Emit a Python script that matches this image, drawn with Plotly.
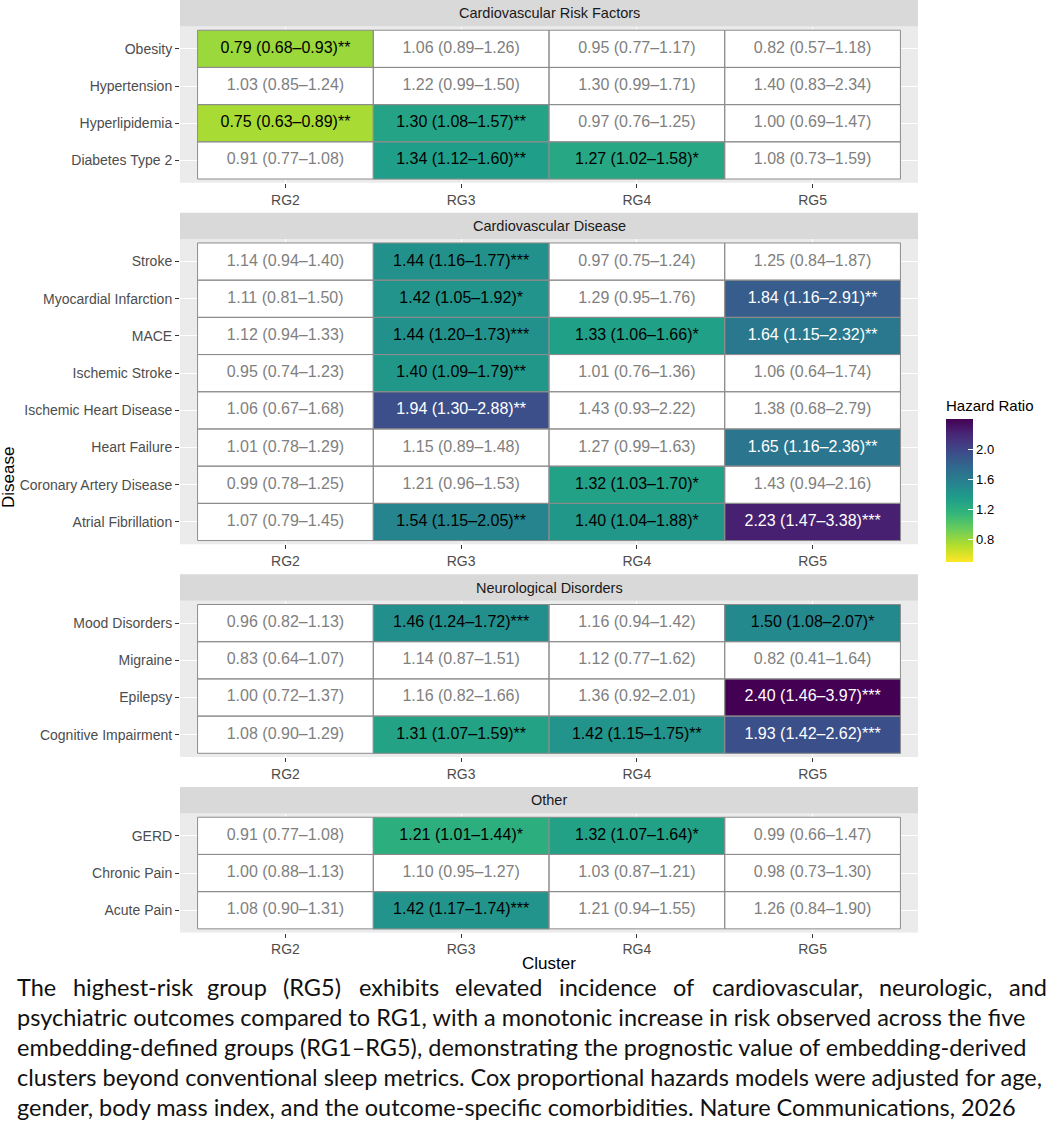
import plotly.graph_objects as go

# ----------------------------- DONNEES ----------------------------- #
clusters = ["RG2", "RG3", "RG4", "RG5"]
groups = ["Cardiovascular Risk Factors", "Cardiovascular Disease", "Neurological Disorders", "Other"]

risk_rows = ["Obesity", "Hypertension", "Hyperlipidemia", "Diabetes Type 2"]
risk_hr = [[0.79, 1.06, 0.95, 0.82], [1.03, 1.22, 1.30, 1.40], [0.75, 1.30, 0.97, 1.00], [0.91, 1.34, 1.27, 1.08]]
risk_lo = [[0.68, 0.89, 0.77, 0.57], [0.85, 0.99, 0.99, 0.83], [0.63, 1.08, 0.76, 0.69], [0.77, 1.12, 1.02, 0.73]]
risk_hi = [[0.93, 1.26, 1.17, 1.18], [1.24, 1.50, 1.71, 2.34], [0.89, 1.57, 1.25, 1.47], [1.08, 1.60, 1.58, 1.59]]
risk_sig = [["**", "", "", ""], ["", "", "", ""], ["**", "**", "", ""], ["", "**", "*", ""]]

cvd_rows = ["Stroke", "Myocardial Infarction", "MACE", "Ischemic Stroke", "Ischemic Heart Disease",
            "Heart Failure", "Coronary Artery Disease", "Atrial Fibrillation"]
cvd_hr = [[1.14, 1.44, 0.97, 1.25], [1.11, 1.42, 1.29, 1.84], [1.12, 1.44, 1.33, 1.64], [0.95, 1.40, 1.01, 1.06],
          [1.06, 1.94, 1.43, 1.38], [1.01, 1.15, 1.27, 1.65], [0.99, 1.21, 1.32, 1.43], [1.07, 1.54, 1.40, 2.23]]
cvd_lo = [[0.94, 1.16, 0.75, 0.84], [0.81, 1.05, 0.95, 1.16], [0.94, 1.20, 1.06, 1.15], [0.74, 1.09, 0.76, 0.64],
          [0.67, 1.30, 0.93, 0.68], [0.78, 0.89, 0.99, 1.16], [0.78, 0.96, 1.03, 0.94], [0.79, 1.15, 1.04, 1.47]]
cvd_hi = [[1.40, 1.77, 1.24, 1.87], [1.50, 1.92, 1.76, 2.91], [1.33, 1.73, 1.66, 2.32], [1.23, 1.79, 1.36, 1.74],
          [1.68, 2.88, 2.22, 2.79], [1.29, 1.48, 1.63, 2.36], [1.25, 1.53, 1.70, 2.16], [1.45, 2.05, 1.88, 3.38]]
cvd_sig = [["", "***", "", ""], ["", "*", "", "**"], ["", "***", "*", "**"], ["", "**", "", ""],
           ["", "**", "", ""], ["", "", "", "**"], ["", "", "*", ""], ["", "**", "*", "***"]]

neuro_rows = ["Mood Disorders", "Migraine", "Epilepsy", "Cognitive Impairment"]
neuro_hr = [[0.96, 1.46, 1.16, 1.50], [0.83, 1.14, 1.12, 0.82], [1.00, 1.16, 1.36, 2.40], [1.08, 1.31, 1.42, 1.93]]
neuro_lo = [[0.82, 1.24, 0.94, 1.08], [0.64, 0.87, 0.77, 0.41], [0.72, 0.82, 0.92, 1.46], [0.90, 1.07, 1.15, 1.42]]
neuro_hi = [[1.13, 1.72, 1.42, 2.07], [1.07, 1.51, 1.62, 1.64], [1.37, 1.66, 2.01, 3.97], [1.29, 1.59, 1.75, 2.62]]
neuro_sig = [["", "***", "", "*"], ["", "", "", ""], ["", "", "", "***"], ["", "**", "**", "***"]]

other_rows = ["GERD", "Chronic Pain", "Acute Pain"]
other_hr = [[0.91, 1.21, 1.32, 0.99], [1.00, 1.10, 1.03, 0.98], [1.08, 1.42, 1.21, 1.26]]
other_lo = [[0.77, 1.01, 1.07, 0.66], [0.88, 0.95, 0.87, 0.73], [0.90, 1.17, 0.94, 0.84]]
other_hi = [[1.08, 1.44, 1.64, 1.47], [1.13, 1.27, 1.21, 1.30], [1.31, 1.74, 1.55, 1.90]]
other_sig = [["", "*", "*", ""], ["", "", "", ""], ["", "***", "", ""]]

caption_lines = [
    "psychiatric outcomes compared to RG1, with a monotonic increase in risk observed across the five",
    "embedding-defined groups (RG1\u2013RG5), demonstrating the prognostic value of embedding-derived",
    "clusters beyond conventional sleep metrics. Cox proportional hazards models were adjusted for age,",
    "gender, body mass index, and the outcome-specific comorbidities. Nature Communications, 2026",
]
caption_first = ["The", "highest-risk", "group", "(RG5)", "exhibits", "elevated", "incidence", "of",
                 "cardiovascular,", "neurologic,", "and"]

panels = [
    (risk_rows, risk_hr, risk_lo, risk_hi, risk_sig),
    (cvd_rows, cvd_hr, cvd_lo, cvd_hi, cvd_sig),
    (neuro_rows, neuro_hr, neuro_lo, neuro_hi, neuro_sig),
    (other_rows, other_hr, other_lo, other_hi, other_sig),
]

# ----------------------------- MISE EN PAGE ----------------------------- #
W, H = 1057, 1137
ML, MR = 180, 139
PW = W - ML - MR
STRIP, ROW, GAP = 26.5, 37.2, 30
FONT = "Liberation Sans, Arial, sans-serif"


def px_x(px):
    return (px - ML) / PW


def px_y(py):
    return 1 - py / H


fig = go.Figure()
shapes = []
annotations = []
top = 0.0

for i, (rows, hr, lo, hi, sig) in enumerate(panels):
    n = len(rows)
    sfx = "" if i == 0 else str(i + 1)
    xref, yref = "x" + sfx, "y" + sfx

    panel_top = top + STRIP
    panel_bot = panel_top + (n + 0.2) * ROW

    # bandeau de facette
    shapes.append(dict(type="rect", xref="paper", yref="paper", x0=0, x1=1,
                       y0=px_y(panel_top), y1=px_y(top), fillcolor="#D9D9D9", line_width=0, layer="below"))
    annotations.append(dict(text=groups[i], xref="paper", yref="paper", x=0.5, y=px_y(top + STRIP / 2),
                            xanchor="center", yanchor="middle", showarrow=False,
                            font=dict(size=14.5, color="#1A1A1A", family=FONT)))

    z_sig = [[hr[r][c] if sig[r][c] else None for c in range(4)] for r in range(n)]
    z_ns = [[None if sig[r][c] else 1 for c in range(4)] for r in range(n)]

    fig.add_trace(go.Heatmap(x=clusters, y=rows, z=z_ns, colorscale=[[0, "white"], [1, "white"]],
                             showscale=False, hoverinfo="skip", xaxis=xref, yaxis=yref))
    fig.add_trace(go.Heatmap(x=clusters, y=rows, z=z_sig, coloraxis="coloraxis",
                             hovertemplate="%{y} / %{x}<br>HR : %{z:.2f}<extra></extra>",
                             xaxis=xref, yaxis=yref))

    tx, ty, txt, tcol = [], [], [], []
    for r in range(n):
        for c in range(4):
            tx.append(clusters[c])
            ty.append(rows[r])
            txt.append(f"{hr[r][c]:.2f} ({lo[r][c]:.2f}\u2013{hi[r][c]:.2f}){sig[r][c]}")
            if not sig[r][c]:
                tcol.append("#7F7F7F")
            elif hr[r][c] > 1.6:
                tcol.append("white")
            else:
                tcol.append("black")
            # bordure de cellule
            shapes.append(dict(type="rect", xref=xref, yref=yref, x0=c - 0.5, x1=c + 0.5,
                               y0=r - 0.5, y1=r + 0.5, line=dict(color="#8C8C8C", width=1)))
    fig.add_trace(go.Scatter(x=tx, y=ty, mode="text", text=txt, hoverinfo="skip", showlegend=False,
                             textfont=dict(size=16, color=tcol, family=FONT), xaxis=xref, yaxis=yref))

    axis_common = dict(type="category", showgrid=True, gridcolor="white", gridwidth=1.4, zeroline=False,
                       showline=False, ticks="outside", ticklen=4, tickcolor="#333333",
                       tickfont=dict(size=14, color="#4D4D4D", family=FONT), fixedrange=True)
    fig.update_layout({
        "xaxis" + sfx: dict(axis_common, domain=[0, 1], range=[-0.6, 3.6], anchor=yref,
                            categoryorder="array", categoryarray=clusters),
        "yaxis" + sfx: dict(axis_common, domain=[px_y(panel_bot), px_y(panel_top)],
                            range=[n - 0.4, -0.6], anchor=xref,
                            categoryorder="array", categoryarray=rows),
    })

    top = panel_bot + GAP

# titres des axes
annotations.append(dict(text="Disease", xref="paper", yref="paper", x=px_x(9), y=px_y(478),
                        textangle=-90, showarrow=False, xanchor="center", yanchor="middle",
                        font=dict(size=17, color="black", family=FONT)))
annotations.append(dict(text="Cluster", xref="paper", yref="paper", x=0.5, y=px_y(963),
                        showarrow=False, xanchor="center", yanchor="middle",
                        font=dict(size=17, color="black", family=FONT)))

# légende justifiée : première ligne mot par mot
CAP_FONT = dict(size=23.5, color="#111111", family="Lato, sans-serif")
first_x = [15, 71, 205, 281, 357, 453, 557, 671, 710, 877, 1007]
for word, wx in zip(caption_first, first_x):
    annotations.append(dict(text=word, xref="paper", yref="paper", x=px_x(wx), y=px_y(986.5),
                            xanchor="left", yanchor="middle", showarrow=False, font=CAP_FONT))
for k, line in enumerate(caption_lines):
    annotations.append(dict(text=line, xref="paper", yref="paper", x=px_x(15), y=px_y(1016.5 + 30 * k),
                            xanchor="left", yanchor="middle", showarrow=False, font=CAP_FONT))

fig.update_layout(
    width=W,
    height=H,
    margin=dict(l=ML, r=MR, t=0, b=0),
    paper_bgcolor="white",
    plot_bgcolor="#EBEBEB",
    showlegend=False,
    shapes=shapes,
    annotations=annotations,
    coloraxis=dict(
        colorscale="Viridis", reversescale=True, cmin=0.5, cmax=2.4,
        colorbar=dict(
            title=dict(text="Hazard Ratio", side="top", font=dict(size=15, color="black", family=FONT)),
            x=px_x(946), xanchor="left", y=px_y(562), yanchor="bottom",
            len=165, lenmode="pixels", thickness=27, xpad=0, ypad=0, outlinewidth=0,
            tickvals=[0.8, 1.2, 1.6, 2.0], ticktext=["0.8", "1.2", "1.6", "2.0"],
            ticks="inside", tickcolor="white", ticklen=5,
            tickfont=dict(size=13, color="black", family=FONT),
        ),
    ),
)

# marge du <body> supprimée pour que la figure commence en (0, 0)
fig.write_html("out.html", config={"displayModeBar": False},
               post_script="document.body.style.margin='0';")
